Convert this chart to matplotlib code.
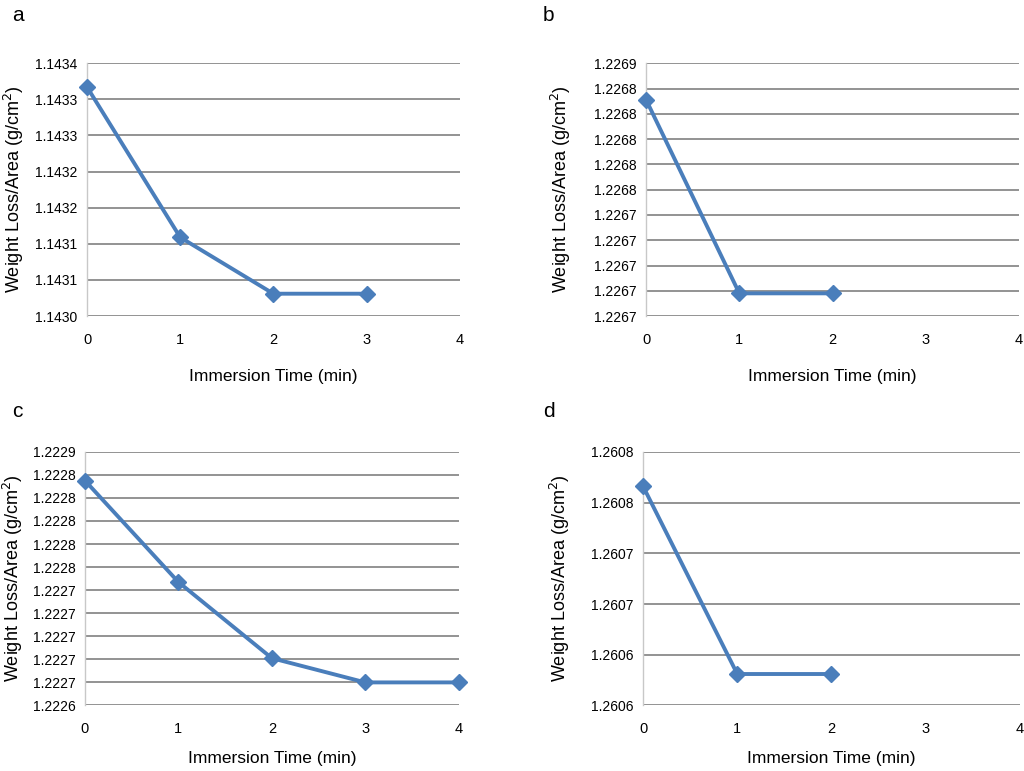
"""Weight loss per area vs immersion time, four panels."""

import numpy as np
import matplotlib
matplotlib.use('Agg')
import matplotlib.pyplot as plt

# panel data
time_a = [0, 1, 2, 3]
loss_a = [1.143317, 1.143109, 1.143031, 1.143031]
time_b = [0, 1, 2]
loss_b = [1.226821, 1.226668, 1.226668]
time_c = [0, 1, 2, 3, 4]
loss_c = [1.222825, 1.222737, 1.222671, 1.222650, 1.222650]
time_d = [0, 1, 2]
loss_d = [1.260766, 1.260581, 1.260581]

# y tick positions (bottom, step) and the rounded labels as printed
yticks_a = (1.14300, 0.00005)
ylabels_a = ['1.1430', '1.1431', '1.1431', '1.1432', '1.1432', '1.1433', '1.1433', '1.1434']
yticks_b = (1.22665, 0.00002)
ylabels_b = ['1.2267', '1.2267', '1.2267', '1.2267', '1.2267',
             '1.2268', '1.2268', '1.2268', '1.2268', '1.2268', '1.2269']
yticks_c = (1.22263, 0.00002)
ylabels_c = ['1.2226', '1.2227', '1.2227', '1.2227', '1.2227', '1.2227',
             '1.2228', '1.2228', '1.2228', '1.2228', '1.2228', '1.2229']
yticks_d = (1.26055, 0.00005)
ylabels_d = ['1.2606', '1.2606', '1.2607', '1.2607', '1.2608', '1.2608']

xticks = [0, 1, 2, 3, 4]
panel_letters = ['a', 'b', 'c', 'd']

BLUE = '#4a7ebb'
FONT = ['Liberation Sans', 'DejaVu Sans']


def draw(ax, x, y, ticks, labels, label_x, xpad):
    start, step = ticks
    yt = start + step * np.arange(len(labels))
    ax.set_xlim(0, 4)
    ax.set_ylim(yt[0], yt[-1])
    ax.set_yticks(yt)
    ax.set_yticklabels(labels, family=FONT, fontsize=10)
    ax.set_xticks(xticks)
    ax.set_xticklabels([str(t) for t in xticks], family=FONT, fontsize=10.5)
    ax.tick_params(axis='y', length=0, pad=7)
    ax.tick_params(axis='x', length=0, pad=12)
    ax.yaxis.grid(True, color='#8a8a8a', linewidth=1.3)
    ax.set_axisbelow(True)
    for side in ['top', 'right', 'bottom']:
        ax.spines[side].set_visible(False)
    ax.spines['left'].set_color('#c8c8c8')
    ax.spines['left'].set_linewidth(1.0)
    ax.plot(x, y, color=BLUE, linewidth=2.8, marker='D', markersize=8,
            markeredgecolor=BLUE, clip_on=False, zorder=3)
    ax.set_xlabel('Immersion Time (min)', family=FONT, fontsize=12.5, labelpad=xpad)
    ax.set_ylabel('Weight Loss/Area (g/cm$^2$)', family=FONT, fontsize=13)
    ax.yaxis.set_label_coords(label_x, 0.5)


fig = plt.figure(figsize=(10.24, 7.71), dpi=100)

boxes = [
    [0.085, 0.590, 0.364, 0.328],
    [0.631, 0.590, 0.364, 0.328],
    [0.083, 0.085, 0.365, 0.329],
    [0.628, 0.085, 0.368, 0.329],
]
label_xs = [-0.165, -0.195, -0.160, -0.188]
xpads = [16, 16, 11, 11]
series = [
    (time_a, loss_a, yticks_a, ylabels_a),
    (time_b, loss_b, yticks_b, ylabels_b),
    (time_c, loss_c, yticks_c, ylabels_c),
    (time_d, loss_d, yticks_d, ylabels_d),
]
letter_pos = [(0.012, 0.992), (0.530, 0.992), (0.012, 0.479), (0.530, 0.479)]

for box, (x, y, t, lab), lx, xp, letter, pos in zip(boxes, series, label_xs, xpads,
                                                    panel_letters, letter_pos):
    ax = fig.add_axes(box)
    draw(ax, x, y, t, lab, lx, xp)
    fig.text(pos[0], pos[1], letter, family=FONT, fontsize=15, va='top', ha='left')

fig.savefig('out.png', dpi=100)
